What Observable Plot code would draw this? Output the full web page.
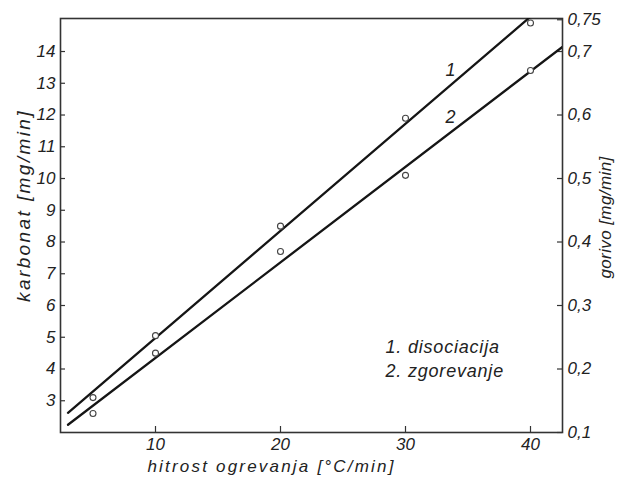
<!DOCTYPE html>
<html>
<head>
<meta charset="utf-8">
<script src="https://cdn.jsdelivr.net/npm/d3@7"></script>
<script src="https://cdn.jsdelivr.net/npm/@observablehq/plot@0.6"></script>
<style>
  html, body { margin: 0; padding: 0; background: #fff; }
</style>
</head>
<body>
<div id="chart"></div>
<script>
// Heating rate [°C/min] and measured mass-loss rates [mg/min]
const rate = [5, 10, 20, 30, 40];
const disociacija = [3.1, 5.05, 8.5, 11.9, 14.9];   // curve 1 (karbonat)
const zgorevanje = [2.6, 4.5, 7.7, 10.1, 13.4];     // curve 2
const curveNames = ["1", "2"];
const legendLines = ["1. disociacija", "2. zgorevanje"];

// Axis ticks
const rateTicks = [10, 20, 30, 40];
const karbonatTicks = [3, 4, 5, 6, 7, 8, 9, 10, 11, 12, 13, 14];
const gorivoTicks = [0.1, 0.2, 0.3, 0.4, 0.5, 0.6, 0.7, 0.75];
const gorivoPerKarbonat = 1 / 20;   // right-hand scale factor
const fitSpan = [3, 45];            // x range over which fitted lines are drawn

// least-squares straight line through a series
function fit(xs, ys) {
  const mx = d3.mean(xs), my = d3.mean(ys);
  const sxy = d3.sum(xs, (x, i) => (x - mx) * (ys[i] - my));
  const sxx = d3.sum(xs, x => (x - mx) ** 2);
  const b = sxy / sxx;
  return {a: my - b * mx, b};
}

const series = [disociacija, zgorevanje].map((ys, k) => ({
  name: curveNames[k],
  ys,
  f: fit(rate, ys)
}));

const points = series.flatMap(s => rate.map((x, i) => ({x, y: s.ys[i], name: s.name})));
const fitted = series.flatMap(s => fitSpan.map(x => ({x, y: s.f.a + s.f.b * x, name: s.name})));
const labelX = 33.6;
const curveLabels = series.map(s => ({x: labelX, y: s.f.a + s.f.b * labelX, name: s.name}));

const fmtGorivo = d => d3.format(".2~f")(d * gorivoPerKarbonat).replace(".", ",");

const ink = "#222";

const chart = Plot.plot({
  width: 618,
  height: 481,
  marginLeft: 60,
  marginRight: 56,
  marginTop: 18,
  marginBottom: 49,
  style: {
    fontFamily: "'Liberation Sans', sans-serif",
    fontSize: "17px",
    fontStyle: "italic",
    color: ink,
    background: "#fff"
  },
  x: {domain: [2.4, 42.56]},
  y: {domain: [2, 15.04]},
  marks: [
    Plot.frame({stroke: "#333", strokeWidth: 1.6}),
    // inward tick marks
    Plot.ruleX(rateTicks, {insetTop: 408, stroke: "#333", strokeWidth: 1.2}),
    Plot.ruleY(karbonatTicks, {insetRight: 497, stroke: "#333", strokeWidth: 1.2}),
    Plot.ruleY(gorivoTicks.map(r => r / gorivoPerKarbonat), {insetLeft: 497, stroke: "#333", strokeWidth: 1.2}),
    Plot.axisX({ticks: rateTicks, tickSize: 0, tickPadding: 5, label: null}),
    Plot.axisY({ticks: karbonatTicks, tickSize: 0, tickPadding: 5, label: null}),
    Plot.axisY({anchor: "right", ticks: gorivoTicks.map(r => r / gorivoPerKarbonat),
      tickFormat: fmtGorivo, tickSize: 0, tickPadding: 5, label: null}),
    // fitted lines
    Plot.line(fitted, {x: "x", y: "y", z: "name", stroke: "#151515", strokeWidth: 2.3, clip: true}),
    // measured points
    Plot.dot(points, {x: "x", y: "y", r: 3, stroke: "#444", strokeWidth: 1.1, fill: "#fff"}),
    // curve numbers
    Plot.text(curveLabels, {x: "x", y: "y", text: "name", dy: -15, dx: 0, fontSize: 18}),
    // key
    Plot.text([legendLines.join("\n")], {frameAnchor: "bottom-right", textAnchor: "start",
      lineAnchor: "bottom", dx: -177, dy: -56, lineHeight: 1.3, fontSize: 18}),
    // axis titles
    Plot.text(["karbonat [mg/min]"], {frameAnchor: "left", textAnchor: "middle", rotate: -90,
      dx: -37, dy: -20, fontSize: 19}),
    Plot.text(["gorivo [mg/min]"], {frameAnchor: "right", textAnchor: "middle", rotate: -90,
      dx: 43, dy: -8, fontSize: 17}),
    Plot.text(["hitrost ogrevanja [°C/min]"], {frameAnchor: "bottom", textAnchor: "middle",
      dx: -40, dy: 39, fontSize: 17})
  ]
});

// wider letter spacing for the hand-lettered titles
const svg = d3.select(chart);
const spacing = {
  "karbonat [mg/min]": "2.4px",
  "hitrost ogrevanja [°C/min]": "2.2px",
  "gorivo [mg/min]": "0.4px"
};
svg.selectAll("text").each(function() {
  const s = spacing[this.textContent];
  if (s) d3.select(this).style("letter-spacing", s);
  if (/^(1\. |2\. )/.test(this.textContent)) d3.select(this).style("letter-spacing", "0.8px");
});

document.getElementById("chart").append(chart);
</script>
</body>
</html>
